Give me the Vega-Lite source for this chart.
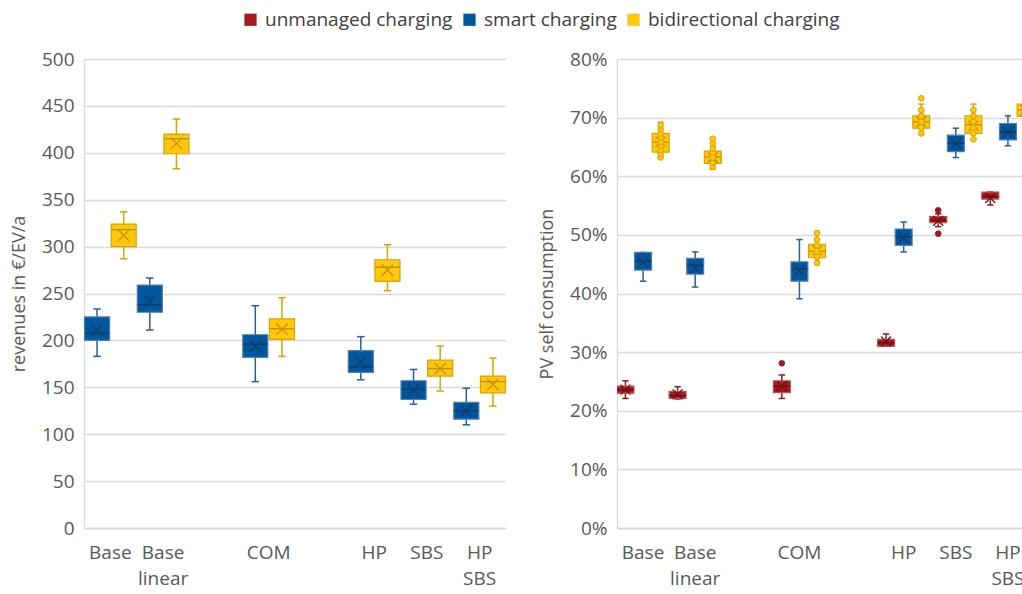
{
  "$schema": "https://vega.github.io/schema/vega-lite/v6.json",
  "background": "white",
  "padding": {"left": 10, "top": 10, "right": 0, "bottom": 0},
  "spacing": 30,
  "datasets": {
    "rev": [
      {"scen": "Base", "series": "smart charging", "lo": 183, "q1": 200, "med": 207.5, "q3": 225, "hi": 233.5, "mean": 211},
      {"scen": "Base", "series": "bidirectional charging", "lo": 287, "q1": 300, "med": 318, "q3": 324, "hi": 337, "mean": 312},
      {"scen": "Base linear", "series": "smart charging", "lo": 211, "q1": 230, "med": 238, "q3": 259, "hi": 266.5, "mean": 242},
      {"scen": "Base linear", "series": "bidirectional charging", "lo": 383, "q1": 399, "med": 415, "q3": 420, "hi": 436, "mean": 410},
      {"scen": "COM", "series": "smart charging", "lo": 156, "q1": 182, "med": 196, "q3": 206, "hi": 237, "mean": 194},
      {"scen": "COM", "series": "bidirectional charging", "lo": 183, "q1": 201, "med": 212.5, "q3": 223, "hi": 245.5, "mean": 212},
      {"scen": "HP", "series": "smart charging", "lo": 158, "q1": 166, "med": 172, "q3": 189, "hi": 204, "mean": 177},
      {"scen": "HP", "series": "bidirectional charging", "lo": 253, "q1": 263, "med": 278, "q3": 286, "hi": 302, "mean": 275},
      {"scen": "SBS", "series": "smart charging", "lo": 132, "q1": 137, "med": 148, "q3": 157, "hi": 169, "mean": 147},
      {"scen": "SBS", "series": "bidirectional charging", "lo": 146, "q1": 162, "med": 170, "q3": 179, "hi": 194, "mean": 170},
      {"scen": "HP SBS", "series": "smart charging", "lo": 110, "q1": 116, "med": 125, "q3": 134, "hi": 149, "mean": 125},
      {"scen": "HP SBS", "series": "bidirectional charging", "lo": 130, "q1": 144, "med": 156, "q3": 162, "hi": 181, "mean": 153}
    ],
    "pv": [
      {"scen": "Base", "series": "unmanaged charging", "lo": 22.1, "q1": 23.0, "med": 23.6, "q3": 24.2, "hi": 25.1, "mean": 23.6},
      {"scen": "Base linear", "series": "unmanaged charging", "lo": 22.0, "q1": 22.1, "med": 22.6, "q3": 23.3, "hi": 24.1, "mean": 22.8},
      {"scen": "COM", "series": "unmanaged charging", "lo": 22.1, "q1": 23.1, "med": 24.2, "q3": 25.1, "hi": 26.1, "mean": 24.2},
      {"scen": "HP", "series": "unmanaged charging", "lo": 31.0, "q1": 31.0, "med": 31.6, "q3": 32.2, "hi": 33.1, "mean": 31.8},
      {"scen": "SBS", "series": "unmanaged charging", "lo": 51.4, "q1": 52.1, "med": 52.5, "q3": 53.1, "hi": 53.6, "mean": 52.4},
      {"scen": "HP SBS", "series": "unmanaged charging", "lo": 55.1, "q1": 56.1, "med": 56.5, "q3": 57.3, "hi": 57.3, "mean": 56.3},
      {"scen": "Base", "series": "smart charging", "lo": 42.1, "q1": 44.0, "med": 45.5, "q3": 47.0, "hi": 47.0, "mean": 45.3},
      {"scen": "Base linear", "series": "smart charging", "lo": 41.1, "q1": 43.3, "med": 44.8, "q3": 46.0, "hi": 47.1, "mean": 44.3},
      {"scen": "COM", "series": "smart charging", "lo": 39.1, "q1": 42.1, "med": 44.2, "q3": 45.4, "hi": 49.2, "mean": 43.9},
      {"scen": "HP", "series": "smart charging", "lo": 47.1, "q1": 48.2, "med": 49.7, "q3": 51.0, "hi": 52.2, "mean": 49.5},
      {"scen": "SBS", "series": "smart charging", "lo": 63.2, "q1": 64.2, "med": 65.6, "q3": 67.0, "hi": 68.2, "mean": 65.6},
      {"scen": "HP SBS", "series": "smart charging", "lo": 65.2, "q1": 66.2, "med": 67.5, "q3": 69.0, "hi": 70.3, "mean": 67.5},
      {"scen": "Base", "series": "bidirectional charging", "lo": 63.2, "q1": 64.1, "med": 65.8, "q3": 67.3, "hi": 69.2, "mean": 65.9},
      {"scen": "Base linear", "series": "bidirectional charging", "lo": 61.2, "q1": 62.2, "med": 63.3, "q3": 64.3, "hi": 66.4, "mean": 63.2},
      {"scen": "COM", "series": "bidirectional charging", "lo": 45.2, "q1": 46.1, "med": 47.2, "q3": 48.4, "hi": 50.3, "mean": 47.4},
      {"scen": "HP", "series": "bidirectional charging", "lo": 67.3, "q1": 68.2, "med": 69.3, "q3": 70.3, "hi": 72.3, "mean": 69.3},
      {"scen": "SBS", "series": "bidirectional charging", "lo": 66.3, "q1": 67.3, "med": 68.8, "q3": 70.3, "hi": 72.3, "mean": 68.6},
      {"scen": "HP SBS", "series": "bidirectional charging", "lo": 69.4, "q1": 70.2, "med": 71.3, "q3": 72.3, "hi": 73.5, "mean": 71.3}
    ],
    "pvpts": [
      {"scen": "Base", "series": "bidirectional charging", "v": 63.2},
      {"scen": "Base", "series": "bidirectional charging", "v": 63.8},
      {"scen": "Base", "series": "bidirectional charging", "v": 64.5},
      {"scen": "Base", "series": "bidirectional charging", "v": 65.2},
      {"scen": "Base", "series": "bidirectional charging", "v": 65.8},
      {"scen": "Base", "series": "bidirectional charging", "v": 66.6},
      {"scen": "Base", "series": "bidirectional charging", "v": 67.3},
      {"scen": "Base", "series": "bidirectional charging", "v": 68.0},
      {"scen": "Base", "series": "bidirectional charging", "v": 68.7},
      {"scen": "Base linear", "series": "bidirectional charging", "v": 61.6},
      {"scen": "Base linear", "series": "bidirectional charging", "v": 62.3},
      {"scen": "Base linear", "series": "bidirectional charging", "v": 63.2},
      {"scen": "Base linear", "series": "bidirectional charging", "v": 64.0},
      {"scen": "Base linear", "series": "bidirectional charging", "v": 64.8},
      {"scen": "Base linear", "series": "bidirectional charging", "v": 65.6},
      {"scen": "Base linear", "series": "bidirectional charging", "v": 66.4},
      {"scen": "COM", "series": "bidirectional charging", "v": 45.2},
      {"scen": "COM", "series": "bidirectional charging", "v": 46.2},
      {"scen": "COM", "series": "bidirectional charging", "v": 47.2},
      {"scen": "COM", "series": "bidirectional charging", "v": 48.2},
      {"scen": "COM", "series": "bidirectional charging", "v": 49.2},
      {"scen": "COM", "series": "bidirectional charging", "v": 50.3},
      {"scen": "HP", "series": "bidirectional charging", "v": 67.3},
      {"scen": "HP", "series": "bidirectional charging", "v": 68.3},
      {"scen": "HP", "series": "bidirectional charging", "v": 69.3},
      {"scen": "HP", "series": "bidirectional charging", "v": 70.3},
      {"scen": "HP", "series": "bidirectional charging", "v": 71.3},
      {"scen": "HP", "series": "bidirectional charging", "v": 73.3},
      {"scen": "SBS", "series": "bidirectional charging", "v": 66.3},
      {"scen": "SBS", "series": "bidirectional charging", "v": 67.3},
      {"scen": "SBS", "series": "bidirectional charging", "v": 68.3},
      {"scen": "SBS", "series": "bidirectional charging", "v": 69.3},
      {"scen": "SBS", "series": "bidirectional charging", "v": 70.3},
      {"scen": "SBS", "series": "bidirectional charging", "v": 71.3},
      {"scen": "HP SBS", "series": "bidirectional charging", "v": 69.4},
      {"scen": "HP SBS", "series": "bidirectional charging", "v": 70.4},
      {"scen": "HP SBS", "series": "bidirectional charging", "v": 71.4},
      {"scen": "HP SBS", "series": "bidirectional charging", "v": 72.4},
      {"scen": "HP SBS", "series": "bidirectional charging", "v": 73.5},
      {"scen": "HP SBS", "series": "bidirectional charging", "v": 74.4},
      {"scen": "COM", "series": "unmanaged charging", "v": 28.1},
      {"scen": "SBS", "series": "unmanaged charging", "v": 54.2},
      {"scen": "SBS", "series": "unmanaged charging", "v": 50.2}
    ]
  },
  "config": {
    "font": "Open Sans",
    "view": {"stroke": null},
    "axis": {
      "labelFont": "Open Sans", "labelFontSize": 19, "labelColor": "#595959",
      "titleFont": "Open Sans", "titleFontSize": 18, "titleFontWeight": "normal", "titleColor": "#595959",
      "gridColor": "#D9D9D9", "gridWidth": 1.3, "domainColor": "#D9D9D9", "domainWidth": 1.3, "ticks": false
    },
    "axisX": {"grid": false, "domain": true, "labelAngle": 0, "labelPadding": 15, "labelLineHeight": 26, "labelBaseline": "top"},
    "axisY": {"grid": true, "domain": true, "labelPadding": 10, "titlePadding": 13}
  },
  "resolve": {"scale": {"fill": "shared", "xOffset": "independent", "x": "independent", "y": "independent", "stroke": "independent"}},
  "hconcat": [
    {
      "width": 422,
      "height": 469,
      "data": {"name": "rev"},
      "encoding": {
        "x": {"field": "scen", "type": "nominal", "title": null,
          "scale": {"domain": ["Base", "Base linear", "gap1", "COM", "gap2", "HP", "SBS", "HP SBS"], "paddingInner": 0, "paddingOuter": 0},
          "axis": {"labelExpr": "indexof(datum.value,'gap')==0 ? '' : split(datum.value,' ')"}},
        "xOffset": {"field": "series", "type": "nominal",
          "scale": {"domain": ["smart charging", "bidirectional charging"], "paddingInner": 0.06, "paddingOuter": 0.02}}
      },
      "layer": [
        {
          "mark": {"type": "rule", "strokeWidth": 1.5},
          "encoding": {
            "y": {"field": "lo", "type": "quantitative", "title": "revenues in €/EV/a",
              "scale": {"domain": [0, 500]}, "axis": {"values": [0, 50, 100, 150, 200, 250, 300, 350, 400, 450, 500]}},
            "y2": {"field": "hi"},
            "stroke": {"field": "series", "type": "nominal", "legend": null,
              "scale": {"domain": ["unmanaged charging", "smart charging", "bidirectional charging"], "range": ["#8C1A1E", "#2A5F9A", "#D9A300"]}}
          }
        },
        {
          "mark": {"type": "point", "shape": "M-1,0L1,0", "filled": false, "size": 56, "strokeWidth": 1.5, "opacity": 1},
          "encoding": {
            "y": {"field": "lo", "type": "quantitative", "title": "revenues in €/EV/a"},
            "stroke": {"field": "series", "type": "nominal", "legend": null,
              "scale": {"domain": ["unmanaged charging", "smart charging", "bidirectional charging"], "range": ["#8C1A1E", "#2A5F9A", "#D9A300"]}}
          }
        },
        {
          "mark": {"type": "point", "shape": "M-1,0L1,0", "filled": false, "size": 56, "strokeWidth": 1.5, "opacity": 1},
          "encoding": {
            "y": {"field": "hi", "type": "quantitative", "title": "revenues in €/EV/a"},
            "stroke": {"field": "series", "type": "nominal", "legend": null,
              "scale": {"domain": ["unmanaged charging", "smart charging", "bidirectional charging"], "range": ["#8C1A1E", "#2A5F9A", "#D9A300"]}}
          }
        },
        {
          "mark": {"type": "bar", "strokeWidth": 1.2, "width": {"band": 1}},
          "encoding": {
            "y": {"field": "q1", "type": "quantitative", "title": "revenues in €/EV/a"},
            "y2": {"field": "q3"},
            "fill": {"field": "series", "type": "nominal",
              "scale": {"domain": ["unmanaged charging", "smart charging", "bidirectional charging"], "range": ["#A3191F", "#00579D", "#FFC80B"]},
              "legend": {"orient": "none", "legendX": 157, "legendY": -49, "direction": "horizontal", "title": null,
                "symbolType": "square", "symbolSize": 150, "labelFontSize": 19, "labelFont": "Open Sans", "labelColor": "#404040",
                "columnPadding": 7, "labelOffset": 5, "labelLimit": 0}},
            "stroke": {"field": "series", "type": "nominal", "legend": null,
              "scale": {"domain": ["unmanaged charging", "smart charging", "bidirectional charging"], "range": ["#C0504D", "#4F7FB5", "#D9A300"]}}
          }
        },
        {
          "mark": {"type": "point", "shape": "M-1,0L1,0", "filled": false, "size": 600, "strokeWidth": 1.4, "opacity": 1},
          "encoding": {
            "y": {"field": "med", "type": "quantitative", "title": "revenues in €/EV/a"},
            "stroke": {"field": "series", "type": "nominal", "legend": null,
              "scale": {"domain": ["unmanaged charging", "smart charging", "bidirectional charging"], "range": ["#6E1014", "#163A63", "#C49000"]}}
          }
        },
        {
          "mark": {"type": "point", "shape": "M-1,-1L1,1M-1,1L1,-1", "filled": false, "size": 130, "strokeWidth": 1.3, "opacity": 1},
          "encoding": {
            "y": {"field": "mean", "type": "quantitative", "title": "revenues in €/EV/a"},
            "stroke": {"field": "series", "type": "nominal", "legend": null,
              "scale": {"domain": ["unmanaged charging", "smart charging", "bidirectional charging"], "range": ["#6E1014", "#163A63", "#C49000"]}}
          }
        }
      ],
      "resolve": {"scale": {"stroke": "independent"}}
    },
    {
      "width": 406,
      "height": 469,
      "data": {"name": "pv"},
      "encoding": {
        "x": {"field": "scen", "type": "nominal", "title": null,
          "scale": {"domain": ["Base", "Base linear", "gap1", "COM", "gap2", "HP", "SBS", "HP SBS"], "paddingInner": 0, "paddingOuter": 0, "range": [0, 417]},
          "axis": {"labelExpr": "indexof(datum.value,'gap')==0 ? '' : split(datum.value,' ')"}},
        "xOffset": {"field": "series", "type": "nominal",
          "scale": {"domain": ["unmanaged charging", "smart charging", "bidirectional charging"], "paddingInner": 0.04, "paddingOuter": 0.0}}
      },
      "layer": [
        {
          "mark": {"type": "rule", "strokeWidth": 1.5, "clip": true},
          "encoding": {
            "y": {"field": "lo", "type": "quantitative", "title": "PV self consumption",
              "scale": {"domain": [0, 80]}, "axis": {"values": [0, 10, 20, 30, 40, 50, 60, 70, 80], "labelExpr": "datum.value + '%'"}},
            "y2": {"field": "hi"},
            "stroke": {"field": "series", "type": "nominal", "legend": null,
              "scale": {"domain": ["unmanaged charging", "smart charging", "bidirectional charging"], "range": ["#8C1A1E", "#2A5F9A", "#D9A300"]}}
          }
        },
        {
          "mark": {"type": "point", "shape": "M-1,0L1,0", "filled": false, "size": 40, "strokeWidth": 1.5, "opacity": 1, "clip": true},
          "encoding": {
            "y": {"field": "lo", "type": "quantitative", "title": "PV self consumption"},
            "stroke": {"field": "series", "type": "nominal", "legend": null,
              "scale": {"domain": ["unmanaged charging", "smart charging", "bidirectional charging"], "range": ["#8C1A1E", "#2A5F9A", "#D9A300"]}}
          }
        },
        {
          "mark": {"type": "point", "shape": "M-1,0L1,0", "filled": false, "size": 40, "strokeWidth": 1.5, "opacity": 1, "clip": true},
          "encoding": {
            "y": {"field": "hi", "type": "quantitative", "title": "PV self consumption"},
            "stroke": {"field": "series", "type": "nominal", "legend": null,
              "scale": {"domain": ["unmanaged charging", "smart charging", "bidirectional charging"], "range": ["#8C1A1E", "#2A5F9A", "#D9A300"]}}
          }
        },
        {
          "mark": {"type": "bar", "strokeWidth": 1.2, "clip": true, "width": {"band": 1}},
          "encoding": {
            "y": {"field": "q1", "type": "quantitative", "title": "PV self consumption"},
            "y2": {"field": "q3"},
            "fill": {"field": "series", "type": "nominal",
              "scale": {"domain": ["unmanaged charging", "smart charging", "bidirectional charging"], "range": ["#A3191F", "#00579D", "#FFC80B"]},
              "legend": {"orient": "none", "legendX": 157, "legendY": -49, "direction": "horizontal", "title": null,
                "symbolType": "square", "symbolSize": 150, "labelFontSize": 19, "labelFont": "Open Sans", "labelColor": "#404040",
                "columnPadding": 7, "labelOffset": 5, "labelLimit": 0}},
            "stroke": {"field": "series", "type": "nominal", "legend": null,
              "scale": {"domain": ["unmanaged charging", "smart charging", "bidirectional charging"], "range": ["#C0504D", "#4F7FB5", "#D9A300"]}}
          }
        },
        {
          "mark": {"type": "point", "shape": "M-1,0L1,0", "filled": false, "size": 280, "strokeWidth": 1.4, "opacity": 1, "clip": true},
          "encoding": {
            "y": {"field": "med", "type": "quantitative", "title": "PV self consumption"},
            "stroke": {"field": "series", "type": "nominal", "legend": null,
              "scale": {"domain": ["unmanaged charging", "smart charging", "bidirectional charging"], "range": ["#6E1014", "#163A63", "#C49000"]}}
          }
        },
        {
          "mark": {"type": "point", "shape": "M-1,-1L1,1M-1,1L1,-1", "filled": false, "size": 100, "strokeWidth": 1.3, "opacity": 1, "clip": true},
          "encoding": {
            "y": {"field": "mean", "type": "quantitative", "title": "PV self consumption"},
            "stroke": {"field": "series", "type": "nominal", "legend": null,
              "scale": {"domain": ["unmanaged charging", "smart charging", "bidirectional charging"], "range": ["#6E1014", "#163A63", "#C49000"]}}
          }
        },
        {
          "data": {"name": "pvpts"},
          "mark": {"type": "point", "shape": "circle", "filled": true, "size": 32, "strokeWidth": 1, "opacity": 1, "clip": true},
          "encoding": {
            "y": {"field": "v", "type": "quantitative", "title": "PV self consumption"},
            "fill": {"field": "series", "type": "nominal",
              "scale": {"domain": ["unmanaged charging", "smart charging", "bidirectional charging"], "range": ["#A3191F", "#00579D", "#FFC80B"]}},
            "stroke": {"field": "series", "type": "nominal", "legend": null,
              "scale": {"domain": ["unmanaged charging", "smart charging", "bidirectional charging"], "range": ["#A3191F", "#2A5F9A", "#D9A300"]}}
          }
        }
      ],
      "resolve": {"scale": {"stroke": "independent"}}
    }
  ]
}
